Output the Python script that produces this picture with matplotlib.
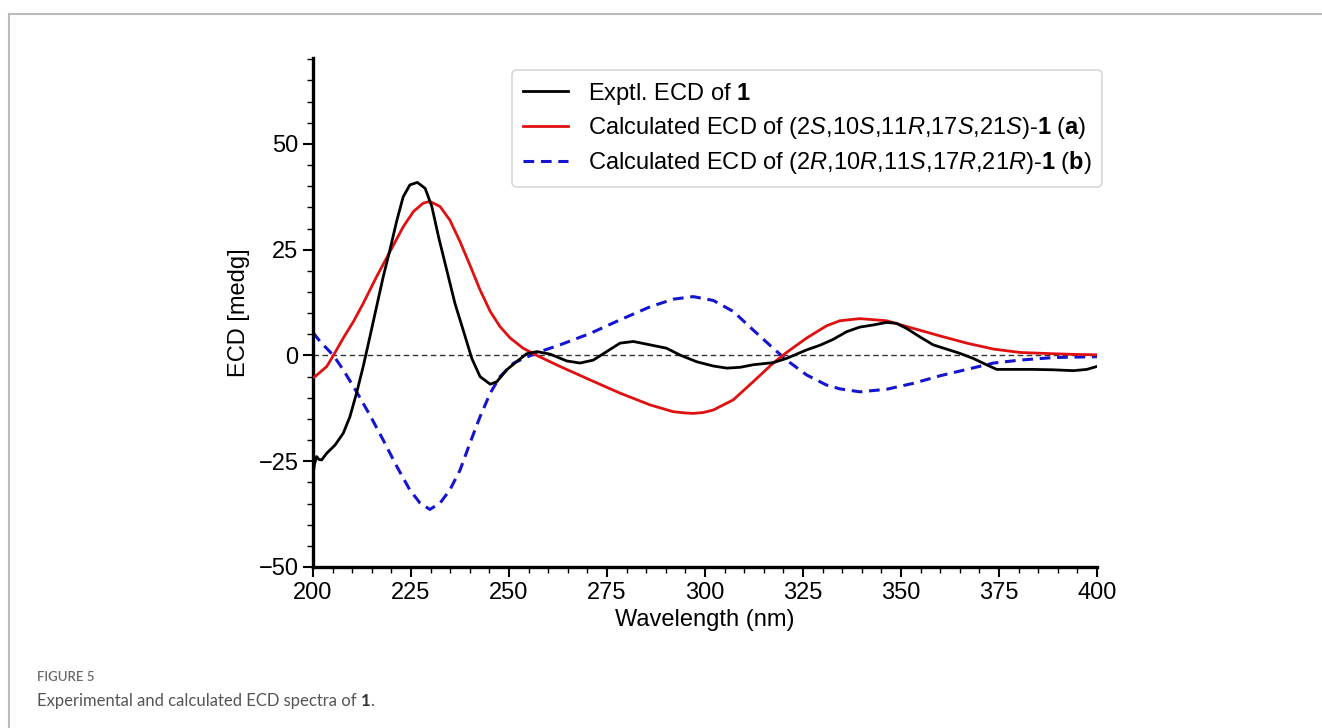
import numpy as np
import matplotlib
matplotlib.use("Agg")
import matplotlib.pyplot as plt
from matplotlib.lines import Line2D

plt.rcParams['font.family'] = ['Liberation Sans', 'DejaVu Sans']
plt.rcParams['mathtext.fontset'] = 'custom'
plt.rcParams['mathtext.rm'] = 'Liberation Sans'
plt.rcParams['mathtext.it'] = 'Liberation Sans:italic'
plt.rcParams['mathtext.bf'] = 'Liberation Sans:bold'

# experimental ECD (black)
wl_exp = [200, 200.3, 200.9, 201.5, 202.2, 203.5, 205.6, 207.7, 209.4, 211.1, 212.8, 214.5,
          216.2, 217.9, 219.6, 221.4, 223, 224.7, 226.6, 228.6, 230.3, 232, 234.1, 236.2,
          238.3, 240.5, 242.6, 245.2, 246.9, 249.4, 251.9, 254.5, 257.1, 260.5, 264.7,
          268.1, 271.5, 274.9, 278.3, 281.7, 286, 290.2, 293.6, 297.9, 302.1, 305.6, 309,
          312.3, 317.4, 320.8, 325.9, 329.3, 332.7, 336.1, 339.5, 342.9, 346.3, 348.8,
          351.4, 354.8, 358.2, 361.6, 365, 368.4, 371.8, 374.4, 378.6, 383.8, 388.9,
          394, 397.4, 400]
ecd_exp = [-28.5, -26, -23.9, -24.6, -24.7, -23.1, -21.2, -18.4, -14.5, -8.9, -2.6, 4.4,
           11.5, 18.6, 24.9, 32, 37.5, 40.3, 40.9, 39.5, 35.2, 28.1, 20.2, 12.3,
           6.0, -0.7, -5.0, -6.8, -6.2, -3.4, -1.5, 0.4, 0.9, 0.3, -1.3,
           -1.8, -1.1, 0.9, 2.9, 3.3, 2.5, 1.7, 0.1, -1.5, -2.5, -3.0, -2.8,
           -2.2, -1.7, -0.7, 1.3, 2.4, 3.8, 5.6, 6.7, 7.2, 7.8, 7.6,
           6.4, 4.4, 2.5, 1.5, 0.5, -0.7, -2.2, -3.3, -3.3, -3.3, -3.4,
           -3.6, -3.3, -2.6]

# calculated ECD (a), red
wl_a = [200, 200.5, 203.5, 205.2, 207.7, 210.3, 212.8, 216.2, 219.6, 223, 225.6, 228.1,
        229.8, 232.4, 234.9, 237.5, 240, 242.6, 245.2, 247.7, 250.3, 253.6, 257.1,
        260.5, 263, 270.7, 278.3, 286, 291.9, 295, 297, 299.5, 302.1, 307.2, 312.3,
        317.4, 320.8, 325.9, 331, 334.4, 339.5, 346.3, 353.1, 360, 366.8, 373.6,
        380.4, 388.9, 394, 400]
ecd_a = [-5.2, -5.0, -2.6, 0, 4.1, 8.0, 12.3, 18.6, 24.5, 30.4, 34, 36,
         36.4, 35.2, 32, 26.9, 21.4, 15.5, 10.4, 6.8, 4.1, 1.7, 0,
         -1.5, -2.6, -5.8, -8.9, -11.7, -13.3, -13.6, -13.7, -13.5, -12.9, -10.5, -6.2,
         -1.8, 0.7, 4.1, 7.0, 8.2, 8.7, 8.2, 6.4, 4.6, 2.9, 1.5,
         0.7, 0.4, 0.25, 0.15]

# calculated ECD (b), blue dashed
wl_b = [200, 201.8, 205.2, 207.7, 211.1, 214.5, 217.9, 221.4, 224.7, 227.3, 229.8, 232.4,
        234.9, 237.5, 240, 242.6, 245.2, 247.7, 251.2, 254.5, 257.9, 263, 270.7, 278.3,
        286, 291.9, 297, 302.1, 307.2, 312.3, 317.4, 320.8, 325.9, 331, 334.4, 339.5,
        346.3, 353.1, 360, 366.8, 373.6, 380.4, 388.9, 394, 400]
ecd_b = [5.4, 3.3, 0, -3.4, -8.6, -14.1, -20, -26.3, -31.8, -34.9, -36.4, -34.9,
         -31.8, -27.1, -20.8, -14.5, -8.9, -5.0, -1.8, -0.4, 0.9, 2.5, 5.2, 8.4,
         11.5, 13.3, 13.9, 13.0, 10.4, 6.0, 1.7, -1.1, -4.6, -7.0, -7.9, -8.6,
         -8.0, -6.6, -4.8, -3.3, -1.8, -1.1, -0.5, -0.4, -0.3]

labels = [r'Exptl. ECD of $\mathbf{1}$',
          r'Calculated ECD of (2$\mathit{S}$,10$\mathit{S}$,11$\mathit{R}$,17$\mathit{S}$,21$\mathit{S}$)-$\mathbf{1}$ ($\mathbf{a}$)',
          r'Calculated ECD of (2$\mathit{R}$,10$\mathit{R}$,11$\mathit{S}$,17$\mathit{R}$,21$\mathit{R}$)-$\mathbf{1}$ ($\mathbf{b}$)']

fig = plt.figure(figsize=(13.22, 7.28), dpi=100)
ax = fig.add_axes([0.2368, 0.2212, 0.593, 0.6991])

ax.axhline(0, color='#333333', lw=1.0, ls=(0, (4, 2.5)), zorder=1)
ax.plot(wl_exp, ecd_exp, color='black', lw=2.0, label=labels[0], zorder=4)
ax.plot(wl_a, ecd_a, color='#e01010', lw=2.0, label=labels[1], zorder=3)
ax.plot(wl_b, ecd_b, color='#1515d0', lw=2.2, ls=(0, (3.5, 2.2)), label=labels[2], zorder=2)

ax.set_xlim(200, 400)
ax.set_ylim(-50, 70.3)
ax.set_xticks([200, 225, 250, 275, 300, 325, 350, 375, 400])
ax.set_yticks([-50, -25, 0, 25, 50])
ax.set_xticks(np.arange(200, 401, 5), minor=True)
ax.set_yticks(np.arange(-50, 71, 5), minor=True)
for s in ['top', 'right']:
    ax.spines[s].set_visible(False)
for s in ['left', 'bottom']:
    ax.spines[s].set_linewidth(2.4)
ax.tick_params(which='major', length=7, width=1.5, labelsize=17)
ax.tick_params(which='minor', length=4, width=1.0)
ax.set_xlabel('Wavelength (nm)', fontsize=17, labelpad=4)
ax.set_ylabel('ECD [medg]', fontsize=17, labelpad=6)

leg = ax.legend(loc='upper right', bbox_to_anchor=(1102 / 1322, 1 - 70 / 728),
                bbox_transform=fig.transFigure, borderaxespad=0, fontsize=17, frameon=True,
                handlelength=1.9, handletextpad=0.85, borderpad=0.45, labelspacing=0.35)
leg.get_frame().set_edgecolor('#cccccc')
leg.get_frame().set_linewidth(1.2)

# page border and caption
fig.add_artist(Line2D([9 / 1322, 1.0], [1 - 14 / 728, 1 - 14 / 728], color='#bbbbbb', lw=1.5))
fig.add_artist(Line2D([9 / 1322, 9 / 1322], [0, 1 - 14 / 728], color='#bbbbbb', lw=1.5))

cap_font = ['Lato', 'DejaVu Sans']
fig.text(37 / 1322, 1 - 677 / 728, 'FIGURE 5', fontsize=9.5, color='#6a6a6a', weight='semibold',
         family=cap_font, va='center')
cap = fig.text(37 / 1322, 1 - 701 / 728, 'Experimental and calculated ECD spectra of ',
               fontsize=12, color='#555555', family=cap_font, va='center')
fig.canvas.draw()
x1 = cap.get_window_extent().x1
one = fig.text(x1 / 1322, 1 - 701 / 728, '1', fontsize=12, color='#333333', weight='bold',
               family=cap_font, va='center')
fig.canvas.draw()
x2 = one.get_window_extent().x1
fig.text(x2 / 1322, 1 - 701 / 728, '.', fontsize=12, color='#555555',
         family=cap_font, va='center')

fig.savefig('out.png', dpi=100)
